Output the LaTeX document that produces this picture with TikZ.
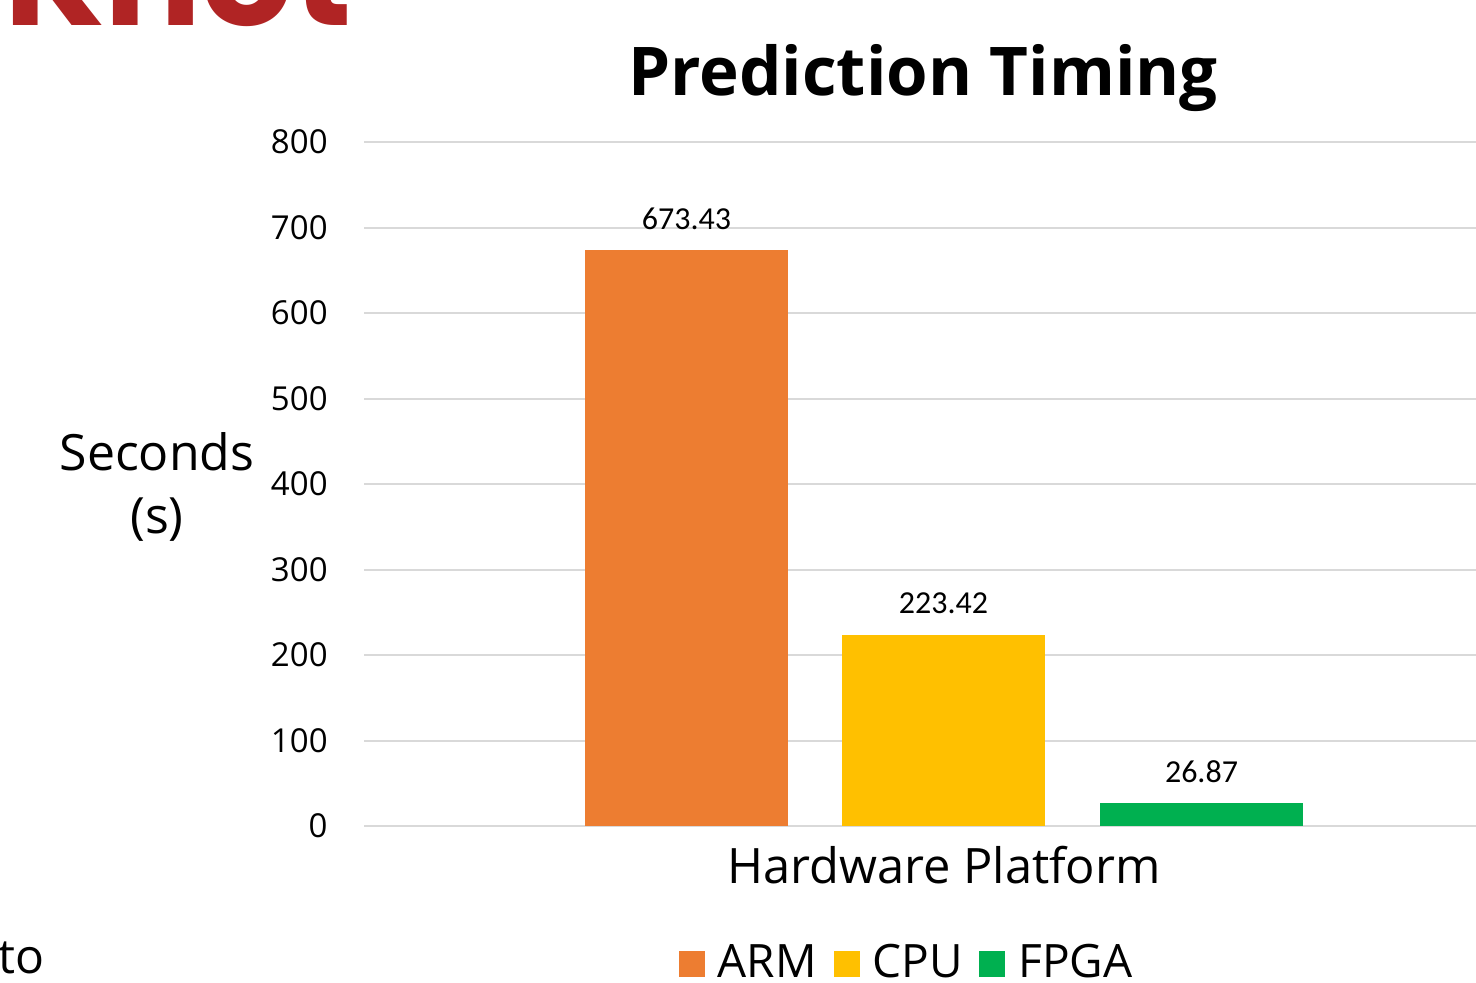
\documentclass[tikz,border=0pt]{standalone}
\usepackage{fontspec}
\setmainfont{Open Sans}
\newfontfamily\valuefont{Carlito}
\newfontfamily\knotfont{Poppins}
\usetikzlibrary{positioning}
\definecolor{armorange}{HTML}{ED7D31}
\definecolor{cpugold}{HTML}{FFC000}
\definecolor{fpgagreen}{HTML}{00B050}
\definecolor{gridgray}{HTML}{D9D9D9}
\definecolor{knotred}{HTML}{B02424}
\newcommand{\fsize}[1]{\fontsize{#1}{#1}\selectfont}

\begin{document}
\begin{tikzpicture}[x = 0.5pt, y = -0.5pt, every node/.style = {inner sep = 0pt}, node distance = 6pt,
	gridline/.style = {draw = gridgray, line width = 1pt},
	ticklabel/.style = {anchor = east, font = \fsize{16.5}},
	barvalue/.style = {anchor = base, font = \valuefont\fsize{16}},
	keybox/.style = {minimum size = 13pt, fill = #1},
	keytext/.style = {font = \fsize{23}}]

	\useasboundingbox (0,0) rectangle (1476,982);

	% cut-off words at the edges
	\node (knot) at (4,25) [anchor = base west, text = knotred, font = \knotfont\bfseries\fsize{72}] {Knot};
	\node (to) at (-2,973) [anchor = base west, font = \fsize{24}] {to};

	\node (title) at (923,95) [anchor = base, font = \bfseries\fsize{33.6}] {Prediction Timing};

	% grid and axis labels
	\foreach \k in {0,...,8} {
		\draw [gridline] (364,{826-85.5*\k}) -- (1476,{826-85.5*\k});
		\node (tick\k) at (328,{826-85.5*\k}) [ticklabel] {\pgfmathparse{int(100*\k)}\pgfmathresult};
	}

	\node (ylabel) at (157,487) [align = center, font = \fontsize{25}{31.5}\selectfont] {Seconds\\(s)};
	\node (xlabel) at (944,865) [font = \fsize{24.4}] {Hardware Platform};

	% bars
	\foreach \name/\left/\val/\col in {arm/585/673.43/armorange, cpu/842/223.42/cpugold, fpga/1100/26.87/fpgagreen} {
		\fill [\col] (\left,826) rectangle ({\left+203},{826-0.855*\val});
		\node (\name val) at ({\left+101.5},{826-0.855*\val-21}) [barvalue] {\val};
	}

	% legend
	\node (armkey) at (692,964) [keybox = armorange] {};
	\node (armtext) [keytext, right = of armkey.south east, anchor = base west] {ARM};
	\node (cpukey) [keybox = cpugold, right = 8pt of armtext.base east, anchor = south west] {};
	\node (cputext) [keytext, right = of cpukey.south east, anchor = base west] {CPU};
	\node (fpgakey) [keybox = fpgagreen, right = 8pt of cputext.base east, anchor = south west] {};
	\node (fpgatext) [keytext, right = of fpgakey.south east, anchor = base west] {FPGA};

\end{tikzpicture}
\end{document}
